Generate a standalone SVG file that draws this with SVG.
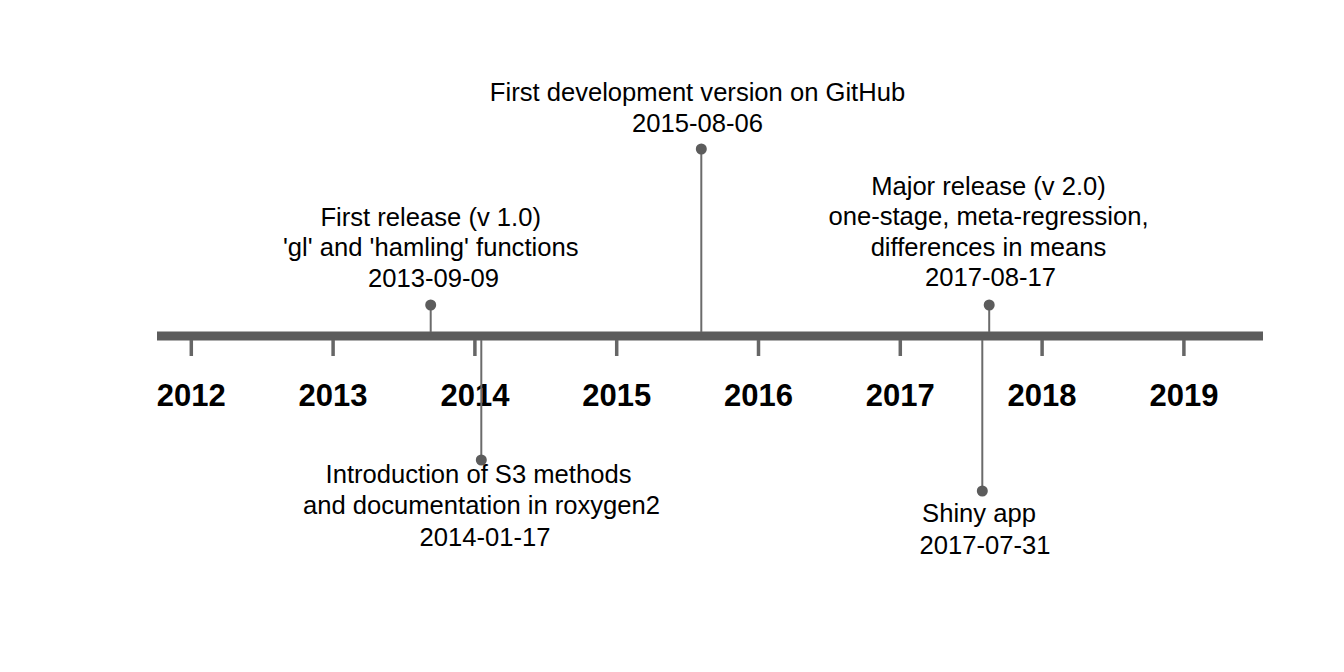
<svg xmlns="http://www.w3.org/2000/svg" width="1344" height="672" viewBox="0 0 1344 672">
<style>
.lbl{font-family:"Liberation Sans",Arial,sans-serif;font-size:25.6px;fill:#000;text-anchor:middle}
.yr{font-family:"Liberation Sans",Arial,sans-serif;font-size:31px;font-weight:bold;fill:#000;text-anchor:middle}
.stem{stroke:#6b6b6b;stroke-width:2;fill:none}
.dot{fill:#5c5c5c}
.tick{stroke:#666;stroke-width:3.5}
</style>
<rect width="1344" height="672" fill="#fff"/>
<g id="axis">
<rect x="157" y="331.5" width="1106" height="9" fill="#5c5c5c"/>
<line class="tick" x1="191.3" y1="340" x2="191.3" y2="356"/>
<line class="tick" x1="333.1" y1="340" x2="333.1" y2="356"/>
<line class="tick" x1="474.9" y1="340" x2="474.9" y2="356"/>
<line class="tick" x1="616.7" y1="340" x2="616.7" y2="356"/>
<line class="tick" x1="758.5" y1="340" x2="758.5" y2="356"/>
<line class="tick" x1="900.3" y1="340" x2="900.3" y2="356"/>
<line class="tick" x1="1042.1" y1="340" x2="1042.1" y2="356"/>
<line class="tick" x1="1183.9" y1="340" x2="1183.9" y2="356"/>
<text class="yr" x="191.3" y="406">2012</text>
<text class="yr" x="333.1" y="406">2013</text>
<text class="yr" x="474.9" y="406">2014</text>
<text class="yr" x="616.7" y="406">2015</text>
<text class="yr" x="758.5" y="406">2016</text>
<text class="yr" x="900.3" y="406">2017</text>
<text class="yr" x="1042.1" y="406">2018</text>
<text class="yr" x="1183.9" y="406">2019</text>
</g>
<g id="connectors">
<line class="stem" x1="430.7" y1="305" x2="430.7" y2="332"/>
<line class="stem" x1="481.3" y1="340" x2="481.3" y2="460"/>
<line class="stem" x1="701.3" y1="149" x2="701.3" y2="332"/>
<line class="stem" x1="982.3" y1="340" x2="982.3" y2="491"/>
<line class="stem" x1="989.2" y1="305" x2="989.2" y2="332"/>
</g>
<g id="e2013">
<circle class="dot" cx="430.7" cy="305" r="5.5"/>
<text class="lbl" x="430.7" y="226">First release (v 1.0)</text>
<text class="lbl" x="430.7" y="256">'gl' and 'hamling' functions</text>
<text class="lbl" x="433.5" y="287">2013-09-09</text>
</g>
<g id="e2014">
<circle class="dot" cx="481.3" cy="460" r="5.5"/>
<text class="lbl" x="478.5" y="483">Introduction of S3 methods</text>
<text class="lbl" x="481.5" y="514">and documentation in roxygen2</text>
<text class="lbl" x="485" y="546">2014-01-17</text>
</g>
<g id="e2015">
<circle class="dot" cx="701.3" cy="149" r="5.5"/>
<text class="lbl" x="697.5" y="101">First development version on GitHub</text>
<text class="lbl" x="697.5" y="132">2015-08-06</text>
</g>
<g id="e2017a">
<circle class="dot" cx="982.3" cy="491" r="5.5"/>
<text class="lbl" x="979" y="522">Shiny app</text>
<text class="lbl" x="985" y="554">2017-07-31</text>
</g>
<g id="e2017b">
<circle class="dot" cx="989.2" cy="305" r="5.5"/>
<text class="lbl" x="988.5" y="195">Major release (v 2.0)</text>
<text class="lbl" x="988.5" y="225">one-stage, meta-regression,</text>
<text class="lbl" x="988.5" y="256">differences in means</text>
<text class="lbl" x="990.5" y="286">2017-08-17</text>
</g>
</svg>
